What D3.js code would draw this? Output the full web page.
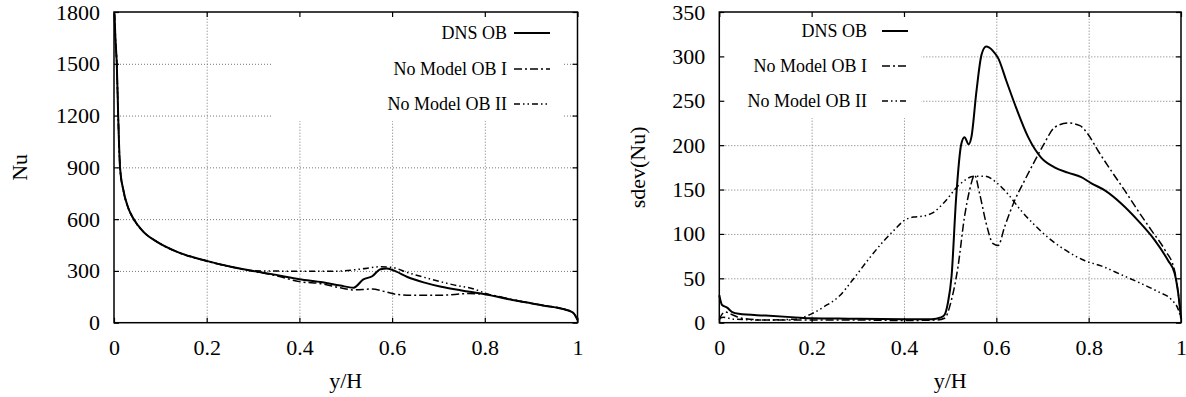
<!DOCTYPE html>
<html>
<head>
<meta charset="utf-8">
<script src="https://cdn.jsdelivr.net/npm/d3@7"></script>
<style>
  body { margin: 0; background: #fff; }
  svg { display: block; }
  .grid line { stroke: #777; stroke-width: 1; stroke-dasharray: 1,2; }
  .grid path { display: none; }
  .ticks path { display: none; }
  .ticks line { stroke: #000; stroke-width: 1.2; }
</style>
</head>
<body>
<svg id="chart" width="1186" height="397"></svg>
<script>
// ---- data ----
const xTicks = [0, 0.2, 0.4, 0.6, 0.8, 1];
const nuTicks = [0, 300, 600, 900, 1200, 1500, 1800];
const sdevTicks = [0, 50, 100, 150, 200, 250, 300, 350];
const seriesNames = ["DNS OB", "No Model OB I", "No Model OB II"];

// Nu profiles, [y/H, Nu]
const nuDns = [[0.001,1790],[0.003,1650],[0.006,1500],[0.009,1200],[0.013,900],[0.02,770],[0.03,670],[0.042,602],[0.063,528],[0.092,470],[0.135,412],[0.2,358],[0.25,325],[0.3,300],[0.35,277],[0.4,252],[0.45,234],[0.488,215],[0.517,203],[0.538,251],[0.557,269],[0.575,310],[0.589,314],[0.608,297],[0.633,265],[0.67,232],[0.706,208],[0.75,187],[0.8,165],[0.867,128],[0.925,100],[0.969,79],[0.99,59],[1.0,16]];
const nuOb1 = [[0.001,1800],[0.003,1660],[0.006,1510],[0.009,1210],[0.013,905],[0.02,772],[0.03,672],[0.042,603],[0.063,528],[0.092,470],[0.135,412],[0.2,357],[0.25,324],[0.3,298],[0.35,272],[0.4,238],[0.45,225],[0.488,202],[0.517,190],[0.557,195],[0.58,183],[0.612,163],[0.644,159],[0.706,159],[0.765,169],[0.8,165],[0.867,129],[0.925,100],[0.969,79],[0.99,59],[1.0,17]];
const nuOb2 = [[0.001,1780],[0.003,1640],[0.006,1495],[0.009,1195],[0.013,895],[0.02,768],[0.03,668],[0.042,600],[0.063,527],[0.092,469],[0.135,411],[0.2,357],[0.25,326],[0.3,301],[0.35,299],[0.4,298],[0.45,298],[0.488,299],[0.53,310],[0.575,324],[0.6,320],[0.633,291],[0.677,257],[0.728,222],[0.779,193],[0.8,172],[0.867,130],[0.925,101],[0.969,80],[0.99,60],[1.0,18]];

// sdev(Nu) profiles, [y/H, sdev]
const sdevDns = [[0,31],[0.006,20],[0.017,17],[0.028,12],[0.042,10],[0.1,8],[0.164,6],[0.2,5],[0.28,4.5],[0.4,4],[0.46,4],[0.48,6],[0.488,9],[0.495,22],[0.503,52],[0.513,141],[0.524,201],[0.531,209],[0.54,201],[0.546,209],[0.557,261],[0.568,302],[0.578,311],[0.593,306],[0.604,298],[0.622,272],[0.643,242],[0.669,209],[0.697,186],[0.726,175],[0.755,169],[0.784,164],[0.806,157],[0.835,149],[0.871,134],[0.907,115],[0.943,93],[0.972,70],[0.986,56],[0.994,33],[1.0,5]];
const sdevOb1 = [[0,3],[0.003,7],[0.013,12],[0.028,9],[0.049,5],[0.1,3],[0.2,3],[0.3,3],[0.4,2.5],[0.47,3],[0.488,5],[0.503,26],[0.517,63],[0.531,119],[0.542,149],[0.553,166],[0.564,145],[0.578,112],[0.593,89],[0.604,87],[0.618,108],[0.64,138],[0.661,160],[0.683,182],[0.705,203],[0.726,220],[0.755,225],[0.781,222],[0.799,212],[0.82,194],[0.849,171],[0.878,149],[0.907,126],[0.936,104],[0.965,82],[0.986,59],[0.994,33],[1.0,5]];
const sdevOb2 = [[0,5],[0.01,6],[0.03,4],[0.1,3],[0.164,4],[0.2,10],[0.227,18],[0.26,30],[0.29,49],[0.324,72],[0.356,92],[0.38,105],[0.4,115],[0.42,119],[0.44,120],[0.463,124],[0.488,136],[0.517,154],[0.553,165],[0.575,165],[0.6,158],[0.625,145],[0.654,126],[0.683,110],[0.719,93],[0.755,80],[0.791,70],[0.827,64],[0.871,54],[0.914,44],[0.95,35],[0.979,26],[0.994,15],[1.0,5]];

// line styles: solid, dash-dot, dash-dot-dot
const lineStyles = [
  { width: 2,   dash: null },
  { width: 1.5, dash: "8,3,2,3" },
  { width: 1.5, dash: "6,3,1.5,3,1.5,3" }
];

const svg = d3.select("#chart");
const font = "Liberation Serif, Times New Roman, serif";

// serif labels for the tick text (the axis sets sans-serif on its group)
const serifLabels = g => {
  g.attr("font-family", font).attr("font-size", 22);
  g.selectAll("text")
    .style("font-family", font)
    .style("font-size", "22px")
    .attr("fill", "#000");
};

const drawPanel = (cfg) => {
  const x = d3.scaleLinear().domain([0, 1]).range([cfg.left, cfg.right]);
  const y = d3.scaleLinear().domain([0, cfg.yMax]).range([cfg.bottom, cfg.top]);
  const w = cfg.right - cfg.left;
  const h = cfg.bottom - cfg.top;

  const panel = svg.append("g");

  // dotted grid (interior ticks only)
  panel.append("g")
    .attr("class", "grid")
    .attr("transform", `translate(0,${cfg.bottom})`)
    .call(d3.axisBottom(x).tickValues(xTicks.slice(1, -1)).tickSize(-h).tickFormat(""));
  panel.append("g")
    .attr("class", "grid")
    .attr("transform", `translate(${cfg.left},0)`)
    .call(d3.axisLeft(y).tickValues(cfg.yTicks.slice(1, -1)).tickSize(-w).tickFormat(""));

  // key area hides the grid behind it
  const lg = cfg.legend;
  panel.append("rect")
    .attr("x", lg.maskX0)
    .attr("y", cfg.top + 1)
    .attr("width", lg.maskX1 - lg.maskX0)
    .attr("height", lg.maskY1 - cfg.top)
    .attr("fill", "#fff");

  // curves
  const line = d3.line()
    .x(d => x(d[0]))
    .y(d => y(d[1]))
    .curve(d3.curveMonotoneX);

  panel.selectAll(".series")
    .data(cfg.series)
    .join("path")
      .attr("class", "series")
      .attr("d", line)
      .attr("fill", "none")
      .attr("stroke", "#000")
      .attr("stroke-width", (d, i) => lineStyles[i].width)
      .attr("stroke-dasharray", (d, i) => lineStyles[i].dash)
      .attr("stroke-linejoin", "round");

  // tick marks, inward on all four sides, labels on bottom/left
  panel.append("g")
    .attr("class", "ticks")
    .attr("transform", `translate(0,${cfg.bottom})`)
    .call(d3.axisBottom(x).tickValues(xTicks).tickSize(-5).tickPadding(17).tickFormat(d3.format("~g")))
    .call(serifLabels);
  panel.append("g")
    .attr("class", "ticks")
    .attr("transform", `translate(0,${cfg.top})`)
    .call(d3.axisTop(x).tickValues(xTicks).tickSize(-5).tickFormat(""));
  panel.append("g")
    .attr("class", "ticks")
    .attr("transform", `translate(${cfg.left},0)`)
    .call(d3.axisLeft(y).tickValues(cfg.yTicks).tickSize(-5).tickPadding(14).tickFormat(d3.format("d")))
    .call(serifLabels);
  panel.append("g")
    .attr("class", "ticks")
    .attr("transform", `translate(${cfg.right},0)`)
    .call(d3.axisRight(y).tickValues(cfg.yTicks).tickSize(-5).tickFormat(""));

  // frame
  panel.append("rect")
    .attr("x", cfg.left)
    .attr("y", cfg.top)
    .attr("width", w)
    .attr("height", h)
    .attr("fill", "none")
    .attr("stroke", "#000")
    .attr("stroke-width", 1.5);

  // key
  const rows = panel.selectAll(".key")
    .data(seriesNames)
    .join("g")
      .attr("class", "key")
      .attr("transform", (d, i) => `translate(0,${lg.rows[i]})`);
  rows.append("text")
    .attr("x", lg.textRight)
    .attr("dy", "0.33em")
    .attr("text-anchor", "end")
    .attr("font-family", font)
    .attr("font-size", 18)
    .text(d => d);
  rows.append("line")
    .attr("x1", lg.lineX0)
    .attr("x2", lg.lineX1)
    .attr("stroke", "#000")
    .attr("stroke-width", (d, i) => lineStyles[i].width)
    .attr("stroke-dasharray", (d, i) => lineStyles[i].dash);

  // axis titles
  panel.append("text")
    .attr("transform", `translate(${cfg.yLabelX},${(cfg.top + cfg.bottom) / 2}) rotate(-90)`)
    .attr("dy", "0.33em")
    .attr("text-anchor", "middle")
    .attr("font-family", font)
    .attr("font-size", 22)
    .text(cfg.yLabel);
  panel.append("text")
    .attr("x", (cfg.left + cfg.right) / 2)
    .attr("y", 388)
    .attr("text-anchor", "middle")
    .attr("font-family", font)
    .attr("font-size", 22)
    .text("y/H");
};

drawPanel({
  left: 114, right: 577.5, top: 12, bottom: 322.7,
  yMax: 1800, yTicks: nuTicks, yLabel: "Nu", yLabelX: 20,
  series: [nuDns, nuOb1, nuOb2],
  legend: { maskX0: 273, maskX1: 563, maskY1: 120, textRight: 507, lineX0: 514, lineX1: 550, rows: [33, 69, 104] }
});

drawPanel({
  left: 719.3, right: 1181, top: 12, bottom: 322.7,
  yMax: 350, yTicks: sdevTicks, yLabel: "sdev(Nu)", yLabelX: 638,
  series: [sdevDns, sdevOb1, sdevOb2],
  legend: { maskX0: 720, maskX1: 921, maskY1: 117, textRight: 867, lineX0: 882, lineX1: 908, rows: [31, 66, 101] }
});
</script>
</body>
</html>
